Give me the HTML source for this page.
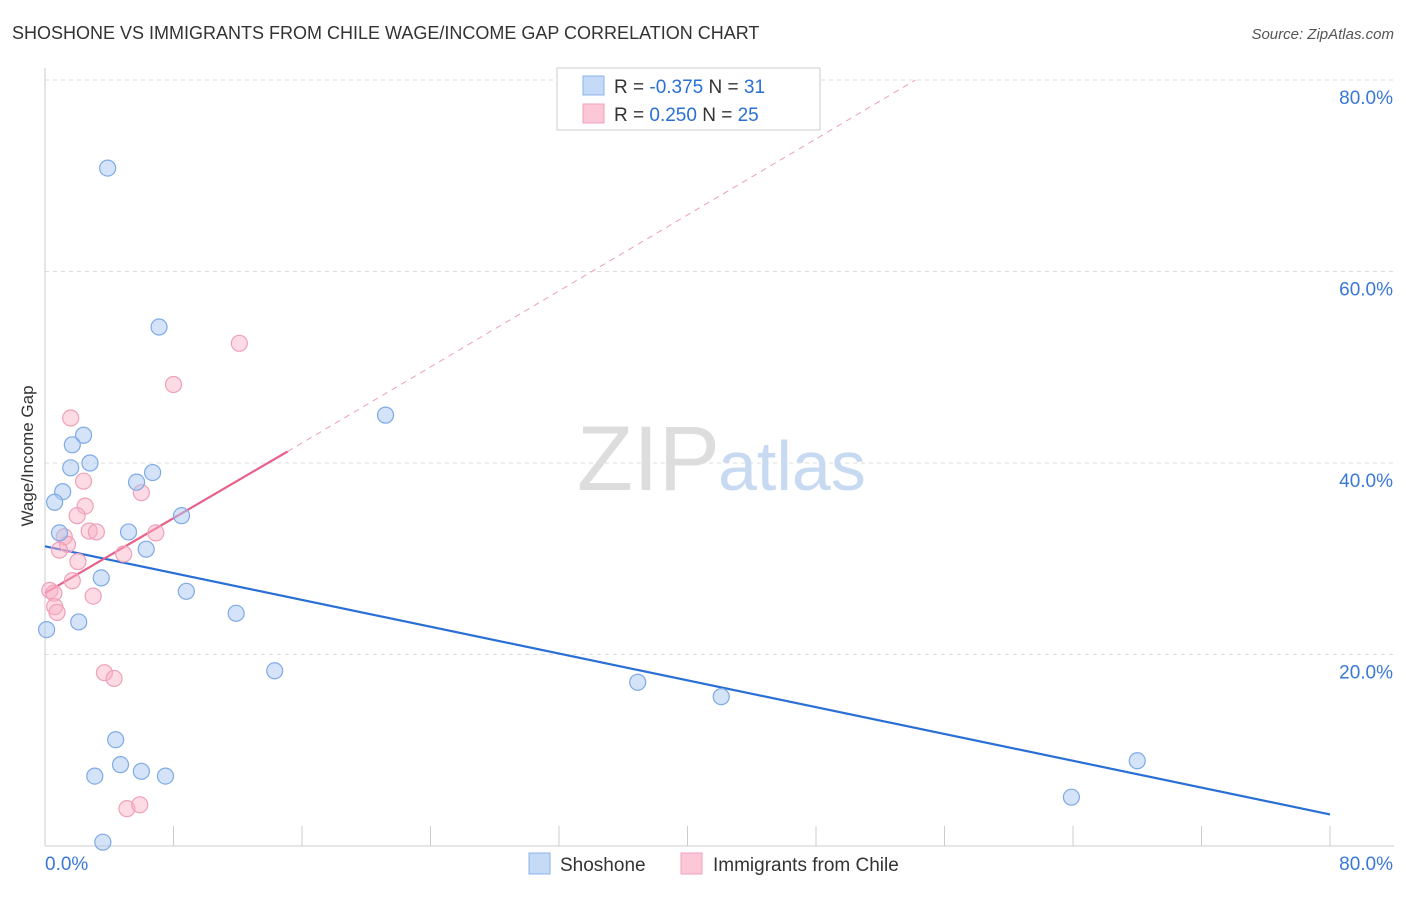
<!DOCTYPE html>
<html><head><meta charset="utf-8"><style>
body{margin:0;background:#fff;font-family:"Liberation Sans",sans-serif;}
svg text{font-family:"Liberation Sans",sans-serif;}
</style></head><body>
<svg id="chart" width="1406" height="892">
<text x="12" y="39" font-size="18" fill="#333">SHOSHONE VS IMMIGRANTS FROM CHILE WAGE/INCOME GAP CORRELATION CHART</text>
<text x="1394" y="39" font-size="15" fill="#555" text-anchor="end" font-style="italic">Source: ZipAtlas.com</text>
<text x="33" y="456" font-size="17" fill="#333" text-anchor="middle" transform="rotate(-90 33 456)">Wage/Income Gap</text>
<g id="grid"></g>
<g id="axes"></g>
<text x="720" y="490" font-size="92" fill="#ddd" text-anchor="end" font-family="Liberation Serif">ZIP</text>
<text x="718" y="490" font-size="70" fill="#c8daf2">atlas</text>
<g id="trends"></g>
<g id="points"></g>
<g>
<rect x="557" y="68" width="263" height="62" fill="#fff" stroke="#ccc"/>
<rect x="583" y="76" width="21" height="19" fill="#c5daf7" stroke="#8ab4e8"/>
<rect x="583" y="104" width="21" height="19" fill="#fcc8d8" stroke="#f0a0b8"/>
<text x="614" y="93" font-size="19" fill="#333">R = <tspan fill="#2a6fd6">-0.375</tspan>   N = <tspan fill="#2a6fd6"> 31</tspan></text>
<text x="614" y="121" font-size="19" fill="#333">R =  <tspan fill="#2a6fd6"> 0.250</tspan>   N = <tspan fill="#2a6fd6">25</tspan></text>
</g>
<g>
<rect x="529" y="853" width="21" height="21" fill="#c5daf7" stroke="#8ab4e8"/>
<text x="560" y="871" font-size="19" fill="#333">Shoshone</text>
<rect x="681" y="853" width="21" height="21" fill="#fcc8d8" stroke="#f0a0b8"/>
<text x="713" y="871" font-size="19" fill="#333">Immigrants from Chile</text>
</g>
</svg>
<script>
const blueX=[3.9,7.1,21.2,2.4,1.7,2.8,1.6,6.7,5.7,1.1,0.6,8.5,0.9,5.2,6.3,3.5,8.8,11.9,2.1,0.1,14.3,36.9,42.1,4.4,4.7,6.0,3.1,7.5,68.0,63.9,3.6];
const blueY=[70.8,54.2,45.0,42.9,41.9,40.0,39.5,39.0,38.0,37.0,35.9,34.5,32.7,32.8,31.0,28.0,26.6,24.3,23.4,22.6,18.3,17.1,15.6,11.1,8.5,7.8,7.3,7.3,8.9,5.1,0.4];
const pinkX=[12.1,8.0,1.6,2.4,6.0,2.5,2.0,2.75,3.2,6.9,1.2,1.4,0.9,4.9,2.05,1.7,0.3,0.55,3.0,0.6,0.75,3.7,4.3,5.1,5.9];
const pinkY=[52.5,48.2,44.7,38.1,36.9,35.5,34.5,32.9,32.8,32.7,32.3,31.5,30.9,30.5,29.7,27.7,26.7,26.4,26.1,25.0,24.4,18.1,17.5,3.9,4.3];
const yTicks=[20,40,60,80];
const yTickLabels=["20.0%","40.0%","60.0%","80.0%"];
const blueTrend=[[0,31.3],[80,3.3]];
const pinkTrend=[[0,26.4],[15.1,41.2]];
const pinkDash=[[15.1,41.2],[54.2,80]];
const NS="http://www.w3.org/2000/svg";
const sx=v=>45+v/80*1285, sy=v=>846-v/80*766;
function mk(t,a,p){const e=document.createElementNS(NS,t);for(const k in a)e.setAttribute(k,a[k]);p.appendChild(e);return e;}
const grid=document.getElementById('grid'),axes=document.getElementById('axes');
yTicks.forEach((t,i)=>{
 const l=mk('line',{x1:45,x2:1394,y1:sy(t),y2:sy(t),stroke:'#ddd','stroke-dasharray':'4 4'},grid);
 
 
 const tx=mk('text',{x:1393,y:sy(t)+24,'font-size':19,fill:'#3a78d8','text-anchor':'end'},axes);
 tx.textContent=yTickLabels[i];
 
 
});
mk('line',{x1:45,x2:45,y1:68,y2:846,stroke:'#ccc'},axes);
mk('line',{x1:45,x2:1394,y1:846,y2:846,stroke:'#ccc'},axes);
for(let i=0;i<=10;i++){const x=sx(i*8);mk('line',{x1:x,x2:x,y1:826,y2:846,stroke:'#ccc'},axes);}
const x0=mk('text',{x:45,y:870,'font-size':19,fill:'#3a78d8'},axes);x0.textContent='0.0%';


const x1=mk('text',{x:1393,y:870,'font-size':19,fill:'#3a78d8','text-anchor':'end'},axes);x1.textContent='80.0%';


const tr=document.getElementById('trends');
const bl=mk('line',{x1:sx(blueTrend[0][0]),y1:sy(blueTrend[0][1]),x2:sx(blueTrend[1][0]),y2:sy(blueTrend[1][1]),stroke:'#2a6fd6','stroke-width':2.2},tr);


const pl=mk('line',{x1:sx(pinkTrend[0][0]),y1:sy(pinkTrend[0][1]),x2:sx(pinkTrend[1][0]),y2:sy(pinkTrend[1][1]),stroke:'#e8608a','stroke-width':2.2},tr);


const pd=mk('line',{x1:sx(pinkDash[0][0]),y1:sy(pinkDash[0][1]),x2:sx(pinkDash[1][0]),y2:sy(pinkDash[1][1]),stroke:'#eaa0b8','stroke-width':1,'stroke-dasharray':'6 5'},tr);


const pts=document.getElementById('points');
pinkX.forEach((v,i)=>{const c=mk('circle',{cx:sx(v),cy:sy(pinkY[i]),r:8,fill:'rgba(248,175,198,0.45)',stroke:'#f0a0b8','stroke-width':1.2},pts);
 
 });
blueX.forEach((v,i)=>{const c=mk('circle',{cx:sx(v),cy:sy(blueY[i]),r:8,fill:'rgba(170,200,240,0.5)',stroke:'#7eaae6','stroke-width':1.2},pts);
 
 });
</script>
</body></html>
